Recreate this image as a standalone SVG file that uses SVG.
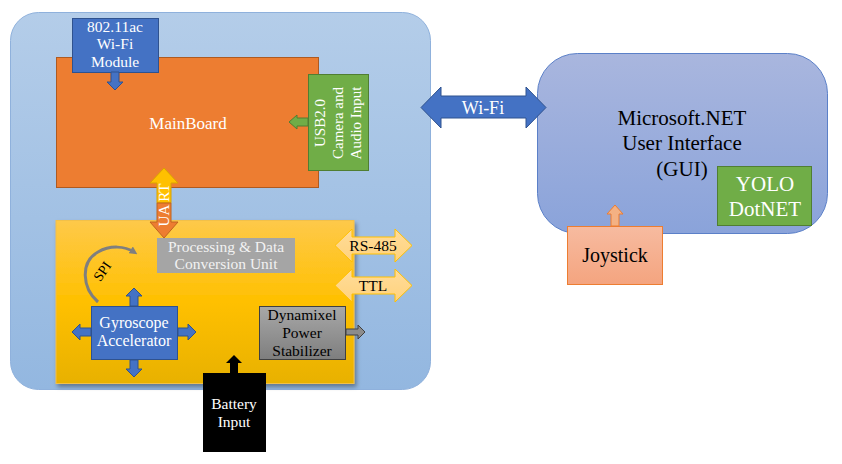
<svg xmlns="http://www.w3.org/2000/svg" width="842" height="464" viewBox="0 0 842 464">
<defs>
<linearGradient id="gLeft" x1="0" y1="0" x2="0" y2="1"><stop offset="0" stop-color="#b4cde9"/><stop offset="1" stop-color="#93b7e0"/></linearGradient>
<linearGradient id="gRight" x1="0" y1="0" x2="0" y2="1"><stop offset="0" stop-color="#a9b6de"/><stop offset="1" stop-color="#8aa3da"/></linearGradient>
<linearGradient id="gYellow" x1="0" y1="0" x2="0" y2="1"><stop offset="0" stop-color="#fec94a"/><stop offset="0.5" stop-color="#ffc000"/><stop offset="1" stop-color="#e8b100"/></linearGradient>
<linearGradient id="gGray" x1="0" y1="0" x2="0" y2="1"><stop offset="0" stop-color="#a8a8a8"/><stop offset="1" stop-color="#7e7e7e"/></linearGradient>
<linearGradient id="gJoy" x1="0" y1="0" x2="0" y2="1"><stop offset="0" stop-color="#f7bba0"/><stop offset="1" stop-color="#f4a47f"/></linearGradient>
<linearGradient id="gRs" x1="0" y1="0" x2="0" y2="1"><stop offset="0" stop-color="#ffdc9a"/><stop offset="1" stop-color="#ffd27c"/></linearGradient>
<filter id="shadow" x="-5%" y="-5%" width="112%" height="115%"><feDropShadow dx="2" dy="3" stdDeviation="2" flood-color="#000" flood-opacity="0.35"/></filter>
<marker id="spiHead" markerWidth="8" markerHeight="8" refX="4" refY="4" orient="auto" markerUnits="userSpaceOnUse"><path d="M0,0 L8,4 L0,8 Z" fill="#7f7f7f"/></marker>
</defs>
<style>
text{font-family:"Liberation Serif","Times New Roman",serif;text-anchor:middle}
.w{fill:#ffffff}
.k{fill:#000000}
.blue{fill:#4472c4;stroke:#2f528f;stroke-width:1}
.green{fill:#70ad47;stroke:#507e32;stroke-width:1}
.rs{fill:url(#gRs);stroke:#ffc000;stroke-width:1}
</style>

<g id="main-container">
<rect x="10.5" y="12.5" width="420" height="377" rx="28" fill="url(#gLeft)" stroke="#8fb1dc" stroke-width="1"/>
</g>

<g id="mainboard">
<rect x="56.5" y="57.5" width="262" height="130" fill="#ed7d31" stroke="#ae5a21" stroke-width="1"/>
<text x="188" y="129" font-size="17" class="w">MainBoard</text>
</g>

<g id="wifi-module">
<rect x="72.5" y="18.5" width="86" height="54" class="blue"/>
<text x="115" y="32" font-size="15.5" class="w">802.11ac</text>
<text x="115" y="49" font-size="15.5" class="w">Wi-Fi</text>
<text x="115" y="67" font-size="15.5" class="w">Module</text>
</g>

<g id="usb">
<rect x="308.5" y="74.5" width="60" height="96" class="green"/>
<text transform="translate(325,123) rotate(-90)" font-size="15" class="w">USB2.0</text>
<text transform="translate(343,123) rotate(-90)" font-size="15" class="w">Camera and</text>
<text transform="translate(361,123) rotate(-90)" font-size="15" class="w">Audio Input</text>
</g>

<g id="processing-board">
<rect x="56" y="220.5" width="298" height="163" fill="url(#gYellow)" stroke="#f2c04a" stroke-width="1" filter="url(#shadow)"/>
</g>

<g id="processing-unit">
<rect x="157" y="238" width="138" height="35" fill="#a5a5a5"/>
<text x="226" y="252" font-size="15.5" fill="#f2f2f2">Processing &amp; Data</text>
<text x="226" y="269" font-size="15.5" fill="#f2f2f2">Conversion Unit</text>
</g>

<g id="gyroscope">
<rect x="91.5" y="306.5" width="86" height="53" class="blue"/>
<text x="134" y="328" font-size="16" class="w">Gyroscope</text>
<text x="134" y="346" font-size="16" class="w">Accelerator</text>
</g>

<g id="dynamixel">
<rect x="259.5" y="306.5" width="86" height="53" fill="url(#gGray)" stroke="#404040" stroke-width="1"/>
<text x="302" y="320" font-size="15.5" class="k">Dynamixel</text>
<text x="302" y="338" font-size="15.5" class="k">Power</text>
<text x="302" y="356" font-size="15.5" class="k">Stabilizer</text>
</g>

<g id="battery">
<rect x="203" y="373" width="63" height="79" fill="#000000"/>
<text x="234" y="409" font-size="15.5" class="w">Battery</text>
<text x="234" y="427" font-size="15.5" class="w">Input</text>
</g>

<g id="gui">
<rect x="537.5" y="53.5" width="290" height="180" rx="40" fill="url(#gRight)" stroke="#5b80c8" stroke-width="1"/>
<text x="682" y="125" font-size="21" class="k">Microsoft.NET</text>
<text x="682" y="150" font-size="21" class="k">User Interface</text>
<text x="682" y="176" font-size="21" class="k">(GUI)</text>
</g>

<g id="yolo">
<rect x="717.5" y="166.5" width="94" height="59" class="green"/>
<text x="765" y="191" font-size="21" class="w">YOLO</text>
<text x="765" y="216" font-size="21" class="w">DotNET</text>
</g>

<g id="joystick">
<rect x="567.5" y="226.5" width="95" height="58" fill="url(#gJoy)" stroke="#ed7d31" stroke-width="1"/>
<text x="615" y="262" font-size="20" class="k">Joystick</text>
</g>

<g id="connectors">
<polygon points="111,72 119,72 119,82 123,82 115,90 107,82 111,82" class="blue"/>
<polygon points="289,122 297,115 297,118 308,118 308,126 297,126 297,129" class="green"/>
<polygon points="164,168 178,183 171,183 171,203 157,203 157,183 150,183" fill="#ffc000" stroke="#d9a300" stroke-width="1"/>
<polygon points="157,203 171,203 171,222 178,222 164,238 150,222 157,222" fill="#ed7d31" stroke="#c0651f" stroke-width="1"/>
<text transform="translate(169,205) rotate(-90)" font-size="15" class="w">UA RT</text>
<polygon points="335,245.5 352,229 352,237 395,237 395,229 412,245.5 395,262 395,254 352,254 352,262" class="rs"/>
<text x="373" y="251" font-size="15.5" class="k">RS-485</text>
<polygon points="335,285.5 352,269 352,277 395,277 395,269 412,285.5 395,302 395,294 352,294 352,302" class="rs"/>
<text x="373" y="291" font-size="15.5" class="k">TTL</text>
<path d="M98,302 C82,288 80,262 98,252 C110,245 125,246 134,252" fill="none" stroke="#7f7f7f" stroke-width="3" marker-end="url(#spiHead)"/>
<text transform="translate(106,274) rotate(-55)" font-size="14" class="k">SPI</text>
<polygon points="134,288 142,296 138,296 138,306 130,306 130,296 126,296" class="blue"/>
<polygon points="134,377 142,369 138,369 138,360 130,360 130,369 126,369" class="blue"/>
<polygon points="72,332 80,324 80,328 91,328 91,336 80,336 80,340" class="blue"/>
<polygon points="196,332 188,324 188,328 178,328 178,336 188,336 188,340" class="blue"/>
<polygon points="365,332 358,325 358,329 346,329 346,335 358,335 358,339" fill="#8c8c8c" stroke="#404040" stroke-width="1"/>
<polygon points="234,355 242,363 238,363 238,374 230,374 230,363 226,363" fill="#000000"/>
<polygon points="421,107.5 441,87 441,96 526,96 526,87 546,107.5 526,128 526,118 441,118 441,128" class="blue"/>
<text x="483" y="114" font-size="18" class="w">Wi-Fi</text>
<polygon points="615,205 623,214 619,214 619,226 611,226 611,214 607,214" fill="#f4b183" stroke="#ed7d31" stroke-width="1"/>
</g>
</svg>
